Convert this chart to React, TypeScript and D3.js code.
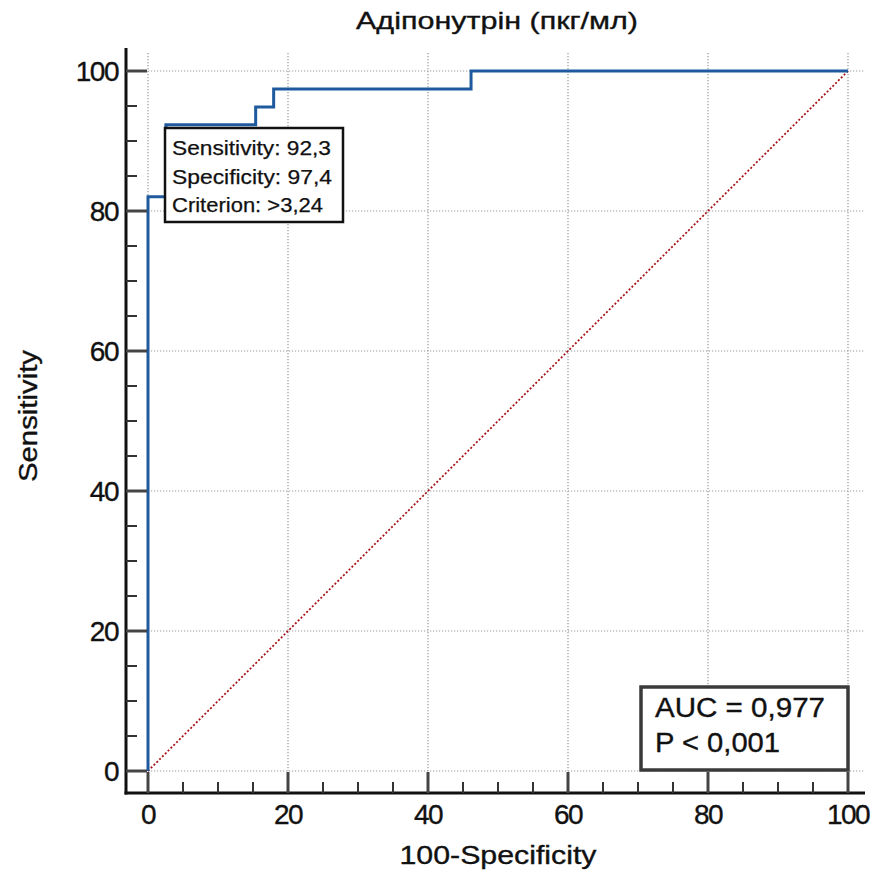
import React from "react";
import * as d3 from "d3";

const W = 885;
const H = 872;

const titleText = "Адіпонутрін (пкг/мл)";
const xLabel = "100-Specificity";
const yLabel = "Sensitivity";
const majorTicks = [0, 20, 40, 60, 80, 100];
const minorTicks = [5, 10, 15, 25, 30, 35, 45, 50, 55, 65, 70, 75, 85, 90, 95];

// ROC curve (100-Specificity, Sensitivity)
const rocFpr = [0, 0, 2.56, 2.56, 15.38, 15.38, 17.95, 17.95, 46.15, 46.15, 100];
const rocTpr = [0, 82.05, 82.05, 92.31, 92.31, 94.87, 94.87, 97.44, 97.44, 100, 100];

const diagonal = [0, 100];

const criterionLines = ["Sensitivity: 92,3", "Specificity: 97,4", "Criterion: >3,24"];
const statsLines = ["AUC = 0,977", "P < 0,001"];

const FONT = "'Liberation Sans', Arial, sans-serif";

export default function App() {
  const x = d3.scaleLinear().domain([0, 100]).range([148, 848]);
  const y = d3.scaleLinear().domain([0, 100]).range([771, 71]);

  const axisX = 126;
  const axisY = 793;
  const plotTop = 53;
  const plotRight = 865;

  const rocPts: [number, number][] = rocFpr.map((f, i) => [f, rocTpr[i]]);
  const line = d3
    .line<[number, number]>()
    .x((d) => x(d[0]))
    .y((d) => y(d[1]));

  const txt = { fill: "#111", stroke: "#111", strokeWidth: 0.35 };

  return (
    <svg
      width={W}
      height={H}
      style={{ position: "absolute", left: 0, top: 0, background: "#fff" }}
      fontFamily={FONT}
    >
      <rect x={0} y={0} width={W} height={H} fill="#fff" />
      {/* grid */}
      {majorTicks.map((t) => (
        <line
          key={"gv" + t}
          x1={x(t)}
          x2={x(t)}
          y1={plotTop}
          y2={y(0)}
          stroke="#999"
          strokeWidth={1.2}
          strokeDasharray="1.2,1.8"
        />
      ))}
      {majorTicks.map((t) => (
        <line
          key={"gh" + t}
          x1={x(0)}
          x2={plotRight}
          y1={y(t)}
          y2={y(t)}
          stroke="#999"
          strokeWidth={1.2}
          strokeDasharray="1.2,1.8"
        />
      ))}

      {/* diagonal */}
      <line
        x1={x(diagonal[0])}
        y1={y(diagonal[0])}
        x2={x(diagonal[1])}
        y2={y(diagonal[1])}
        stroke="#a8161c"
        strokeWidth={1.8}
        strokeDasharray="2,2"
      />

      {/* ROC */}
      <path d={line(rocPts) || ""} fill="none" stroke="#1f5a9e" strokeWidth={3} />

      {/* axes */}
      <line x1={axisX} x2={axisX} y1={48} y2={axisY + 1.5} stroke="#111" strokeWidth={3} />
      <line x1={axisX - 1.5} x2={plotRight} y1={axisY} y2={axisY} stroke="#111" strokeWidth={3} />
      {majorTicks.map((t) => (
        <g key={"mt" + t}>
          <line x1={axisX} x2={axisX + 21} y1={y(t)} y2={y(t)} stroke="#444" strokeWidth={3} />
          <line x1={x(t)} x2={x(t)} y1={axisY} y2={axisY - 21} stroke="#444" strokeWidth={3} />
        </g>
      ))}
      {minorTicks.map((t) => (
        <g key={"nt" + t}>
          <line x1={axisX} x2={axisX + 11} y1={y(t)} y2={y(t)} stroke="#333" strokeWidth={2} />
          <line x1={x(t)} x2={x(t)} y1={axisY} y2={axisY - 11} stroke="#333" strokeWidth={2} />
        </g>
      ))}

      {/* tick labels */}
      {majorTicks.map((t) => (
        <text
          key={"yl" + t}
          x={118}
          y={y(t) + 10}
          textAnchor="end"
          fontSize={28}
          letterSpacing={-1.5}
          {...txt}
        >
          {t}
        </text>
      ))}
      {majorTicks.map((t) => (
        <text
          key={"xl" + t}
          x={x(t)}
          y={824}
          textAnchor="middle"
          fontSize={28}
          letterSpacing={-1.5}
          {...txt}
        >
          {t}
        </text>
      ))}

      {/* titles */}
      <text x={497} y={29} textAnchor="middle" fontSize={24} textLength={282} lengthAdjust="spacingAndGlyphs" {...txt}>
        {titleText}
      </text>
      <text x={498} y={864} textAnchor="middle" fontSize={25} textLength={197} lengthAdjust="spacingAndGlyphs" {...txt}>
        {xLabel}
      </text>
      <text
        transform={`translate(37,416) rotate(-90)`}
        textAnchor="middle"
        fontSize={25}
        textLength={132}
        lengthAdjust="spacingAndGlyphs"
        {...txt}
      >
        {yLabel}
      </text>

      {/* criterion box */}
      <rect x={165} y={128} width={178} height={94} fill="#fff" stroke="#111" strokeWidth={2.5} />
      {criterionLines.map((s, i) => (
        <text
          key={"cl" + i}
          x={172}
          y={155 + i * 28.5}
          fontSize={20}
          textLength={[159, 160, 151][i]}
          lengthAdjust="spacingAndGlyphs"
          {...txt}
          strokeWidth={0.25}
        >
          {s}
        </text>
      ))}

      {/* AUC box */}
      <rect x={641} y={687} width={207} height={83} fill="#fff" stroke="#3a3a3a" strokeWidth={3.5} />
      {statsLines.map((s, i) => (
        <text
          key={"sl" + i}
          x={655}
          y={717 + i * 35}
          fontSize={27}
          textLength={[170, 125][i]}
          lengthAdjust="spacingAndGlyphs"
          {...txt}
        >
          {s}
        </text>
      ))}
    </svg>
  );
}
